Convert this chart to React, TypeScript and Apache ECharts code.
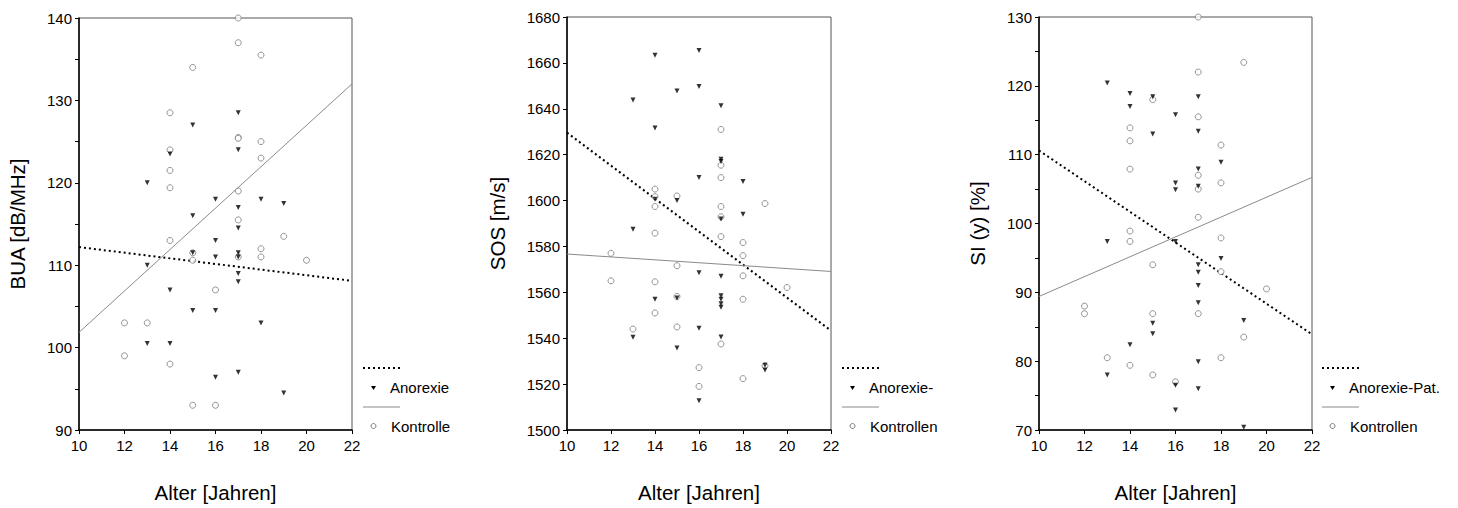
import React, { useEffect, useRef } from "react";
import * as echarts from "echarts";

// ---- Data ----
const ageTicks = [10, 12, 14, 16, 18, 20, 22];

const buaAnorexie = [
  [17, 128.5], [15, 127], [17, 124], [14, 123.5], [13, 120], [16, 118], [18, 118], [19, 117.5],
  [17, 117], [15, 116], [17, 114.5], [16, 113], [15, 111.5], [16, 111], [17, 111.5], [17, 111],
  [13, 110], [17, 109], [17, 108], [14, 107], [15, 104.5], [16, 104.5], [18, 103], [13, 100.5],
  [14, 100.5], [17, 97], [16, 96.4], [19, 94.5],
];
const buaKontrolle = [
  [17, 140], [17, 137], [18, 135.5], [15, 134], [14, 128.5], [17, 125.5], [17, 125.4], [18, 125],
  [14, 124], [18, 123], [14, 121.5], [14, 119.4], [17, 119], [17, 115.5], [19, 113.5], [14, 113],
  [18, 112], [15, 111.5], [15, 110.6], [17, 111], [18, 111], [20, 110.6], [16, 107], [12, 103],
  [13, 103], [12, 99], [14, 98], [15, 93], [16, 93],
];
const buaFitAnorexie = [[10, 112.2], [22, 108.1]];
const buaFitKontrolle = [[10, 101.85], [22, 132]];

const sosAnorexie = [
  [16, 1665.4], [14, 1663.3], [16, 1649.7], [15, 1647.7], [13, 1643.8], [17, 1641.3], [14, 1631.6],
  [17, 1618], [17, 1617], [16, 1610], [18, 1608.3], [14, 1600.6], [15, 1600], [17, 1592], [18, 1594],
  [13, 1587.5], [16, 1568.5], [17, 1567], [14, 1557], [15, 1557.5], [17, 1558.5], [17, 1557],
  [17, 1555], [17, 1553.5], [16, 1544.4], [13, 1540.4], [17, 1540.5], [15, 1535.7], [19, 1528.2],
  [19, 1526.2], [16, 1512.8],
];
const sosKontrolle = [
  [17, 1631], [17, 1615.4], [17, 1610], [14, 1605], [14, 1601.7], [15, 1602], [14, 1597.4],
  [17, 1597.4], [17, 1592.9], [19, 1598.7], [14, 1585.8], [17, 1584.3], [18, 1581.7], [18, 1576],
  [12, 1577], [15, 1571.6], [18, 1567.2], [12, 1565], [14, 1564.6], [20, 1562.1], [15, 1558.2],
  [18, 1557], [14, 1551], [13, 1544], [15, 1544.9], [17, 1537.5], [19, 1528], [16, 1527.2],
  [18, 1522.4], [16, 1519],
];
const sosFitAnorexie = [[10, 1629.6], [22, 1543.3]];
const sosFitKontrolle = [[10, 1576.7], [22, 1569.1]];

const siAnorexie = [
  [13, 120.4], [14, 118.9], [15, 118.4], [17, 118.4], [14, 117], [16, 115.8], [15, 113], [17, 113.4],
  [18, 108.9], [17, 107.9], [16, 105.9], [16, 104.9], [17, 105.4], [13, 97.4], [16, 97.4], [18, 94.9],
  [17, 94], [17, 92.9], [17, 91], [17, 88.5], [19, 85.9], [15, 85.5], [15, 84], [14, 82.4], [17, 79.9],
  [13, 78], [16, 76.5], [17, 76], [16, 72.9], [19, 70.4],
];
const siKontrolle = [
  [17, 130], [19, 123.4], [17, 122], [15, 118], [17, 115.5], [14, 113.9], [14, 112], [18, 111.4],
  [14, 107.9], [17, 107], [17, 105], [18, 105.9], [17, 100.9], [14, 98.9], [18, 97.9], [14, 97.4],
  [15, 94], [18, 93], [20, 90.5], [12, 88], [12, 86.9], [15, 86.9], [17, 86.9], [19, 83.5],
  [13, 80.5], [18, 80.5], [14, 79.4], [15, 78], [16, 77],
];
const siFitAnorexie = [[10, 110.6], [22, 83.9]];
const siFitKontrolle = [[10, 89.4], [22, 106.7]];

const xTitle = "Alter [Jahren]";
const yTitles = ["BUA [dB/MHz]", "SOS [m/s]", "SI (y) [%]"];
const anorexieLabels = ["Anorexie", "Anorexie-Pat.", "Anorexie-Pat."];
const kontrolleLabels = ["Kontrolle", "Kontrollen", "Kontrollen"];
const yRanges = [
  { min: 90, max: 140, interval: 5, labelStep: 10 },
  { min: 1500, max: 1680, interval: 20, labelStep: 20 },
  { min: 70, max: 130, interval: 5, labelStep: 10 },
];

const FONT = "'Liberation Sans', Arial, Helvetica, sans-serif";

export default function App() {
  const ref = useRef<HTMLDivElement>(null);

  useEffect(() => {
    if (!ref.current) return;
    const chart = echarts.init(ref.current, undefined, { renderer: "svg" });

    const grids = [
      { left: 79, top: 18, width: 273, height: 415 },
      { left: 567, top: 17, width: 264, height: 416 },
      { left: 1039, top: 17, width: 273, height: 416 },
    ];
    const nameGaps = [51, 59, 51];
    const legendX = [363, 842, 1322];
    const legendClip = [null, 71, null];

    const panels = [
      { a: buaAnorexie, k: buaKontrolle, fa: buaFitAnorexie, fk: buaFitKontrolle },
      { a: sosAnorexie, k: sosKontrolle, fa: sosFitAnorexie, fk: sosFitKontrolle },
      { a: siAnorexie, k: siKontrolle, fa: siFitAnorexie, fk: siFitKontrolle },
    ];

    const xAxis = grids.map((_, i) => ({
      type: "value",
      gridIndex: i,
      min: ageTicks[0],
      max: ageTicks[ageTicks.length - 1],
      interval: 2,
      name: xTitle,
      nameLocation: "middle",
      nameGap: 52,
      nameTextStyle: { fontFamily: FONT, fontSize: 20.5, color: "#000" },
      axisLine: { show: true, onZero: false, lineStyle: { color: "#000", width: 1.5 } },
      axisTick: { show: true, length: 4, lineStyle: { color: "#000" } },
      axisLabel: { fontFamily: FONT, fontSize: 15, color: "#000", margin: 8 },
      splitLine: { show: false },
    }));

    const yAxis = grids.map((_, i) => ({
      type: "value",
      gridIndex: i,
      min: yRanges[i].min,
      max: yRanges[i].max,
      interval: yRanges[i].interval,
      name: yTitles[i],
      nameLocation: "middle",
      nameGap: nameGaps[i],
      nameRotate: 90,
      nameTextStyle: { fontFamily: FONT, fontSize: 20.5, color: "#000" },
      axisLine: { show: true, onZero: false, lineStyle: { color: "#000", width: 1.5 } },
      axisTick: { show: true, length: 4, lineStyle: { color: "#000" } },
      axisLabel: {
        fontFamily: FONT,
        fontSize: 15,
        color: "#000",
        margin: 7,
        formatter: (v: number) => (v % yRanges[i].labelStep === 0 ? String(v) : ""),
      },
      splitLine: { show: false },
    }));

    const series: any[] = [];
    panels.forEach((p, i) => {
      series.push({
        type: "line",
        name: "fitA" + i,
        xAxisIndex: i,
        yAxisIndex: i,
        data: p.fa,
        showSymbol: false,
        symbol: "none",
        lineStyle: { color: "#000", width: 2, type: [2, 3] },
        silent: true,
        z: 2,
      });
      series.push({
        type: "line",
        name: "fitK" + i,
        xAxisIndex: i,
        yAxisIndex: i,
        data: p.fk,
        showSymbol: false,
        symbol: "none",
        lineStyle: { color: "#8a8a8a", width: 1 },
        silent: true,
        z: 2,
      });
      series.push({
        type: "scatter",
        name: kontrolleLabels[i],
        xAxisIndex: i,
        yAxisIndex: i,
        data: p.k,
        symbol: "circle",
        symbolSize: 6,
        itemStyle: { color: "#fff", borderColor: "#7a7a7a", borderWidth: 1 },
        z: 3,
      });
      series.push({
        type: "scatter",
        name: anorexieLabels[i],
        xAxisIndex: i,
        yAxisIndex: i,
        data: p.a,
        symbol: "triangle",
        symbolRotate: 180,
        symbolSize: [5, 5],
        itemStyle: { color: "#000" },
        z: 4,
      });
    });

    const graphic: any[] = [];
    legendX.forEach((lx, i) => {
      const clip = legendClip[i];
      const textStyleBase: any = { fontFamily: FONT, fontSize: 15, fill: "#000", verticalAlign: "middle", align: "left" };
      if (clip) {
        textStyleBase.width = clip;
        textStyleBase.overflow = "truncate";
        textStyleBase.ellipsis = "";
      }
      graphic.push(
        {
          type: "line",
          shape: { x1: lx, y1: 368, x2: lx + 37, y2: 368 },
          style: { stroke: "#000", lineWidth: 2, lineDash: [2, 3] },
        },
        {
          type: "polygon",
          shape: { points: [[lx + 8, 386], [lx + 13, 386], [lx + 10.5, 390]] },
          style: { fill: "#000" },
        },
        {
          type: "text",
          x: lx + 27,
          y: 387,
          style: { ...textStyleBase, text: anorexieLabels[i] },
        },
        {
          type: "line",
          shape: { x1: lx, y1: 407, x2: lx + 37, y2: 407 },
          style: { stroke: "#8a8a8a", lineWidth: 1 },
        },
        {
          type: "circle",
          shape: { cx: lx + 10.5, cy: 426, r: 2.5 },
          style: { fill: "#fff", stroke: "#7a7a7a", lineWidth: 1 },
        },
        {
          type: "text",
          x: lx + 28,
          y: 426,
          style: { ...textStyleBase, text: kontrolleLabels[i] },
        }
      );
    });

    chart.setOption({
      animation: false,
      backgroundColor: "#fff",
      textStyle: { fontFamily: FONT },
      grid: grids.map((g) => ({ ...g, show: true, borderColor: "#555", borderWidth: 1, backgroundColor: "transparent", containLabel: false })),
      xAxis,
      yAxis,
      series,
      graphic,
    });

    return () => chart.dispose();
  }, []);

  return (
    <div
      ref={ref}
      style={{ position: "fixed", left: 0, top: 0, width: 1458, height: 508, background: "#fff" }}
    />
  );
}
